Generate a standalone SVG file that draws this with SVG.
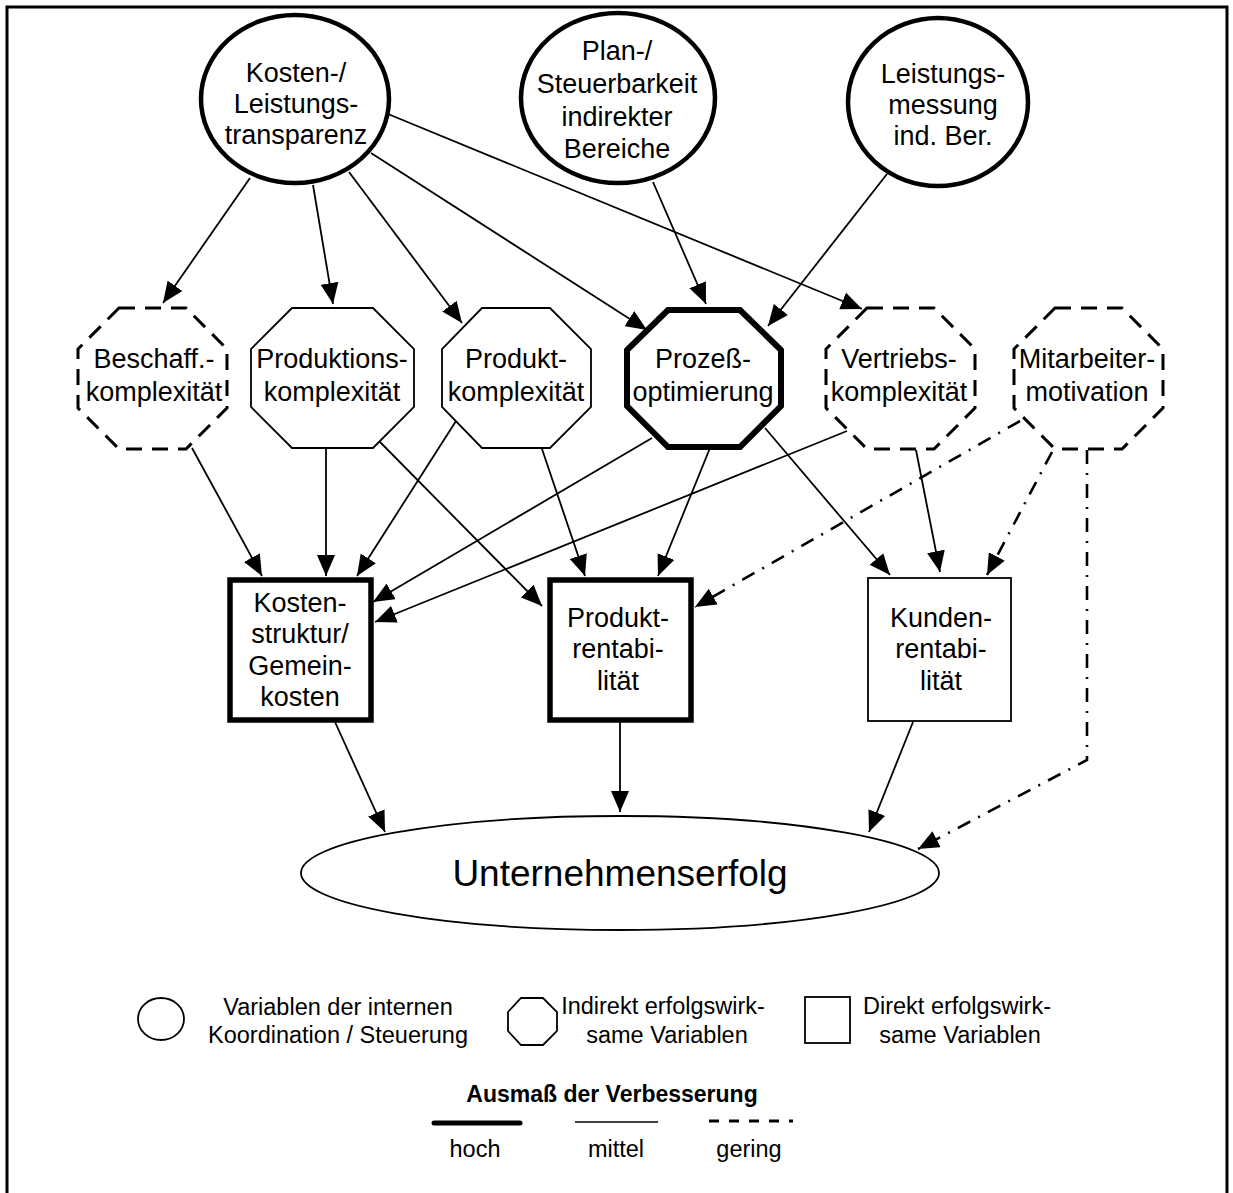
<svg xmlns="http://www.w3.org/2000/svg" width="1233" height="1193" viewBox="0 0 1233 1193">
<style>
text{font-family:"Liberation Sans",Arial,sans-serif;fill:#000;text-anchor:middle}
.t{font-size:27px}
.big{font-size:37px}
.lg{font-size:23.5px}
.bold{font-weight:bold;font-size:23px}
.circ{fill:#fff;stroke:#000;stroke-width:4.5}
.oct{fill:#fff;stroke:#000;stroke-width:1.8}
.octb{fill:#fff;stroke:#000;stroke-width:6}
.octd{fill:#fff;stroke:#000;stroke-width:3;stroke-dasharray:16 10}
.sq{fill:#fff;stroke:#000;stroke-width:1.8}
.sqb{fill:#fff;stroke:#000;stroke-width:5.5}
.c{fill:none;stroke:#000;stroke-width:1.8;marker-end:url(#ah)}
.cda{fill:none;stroke:#000;stroke-width:2.6;stroke-dasharray:14 9 2 9;marker-end:url(#ah2)}
</style>
<defs>
<marker id="ah" markerUnits="userSpaceOnUse" markerWidth="22" markerHeight="18" refX="21" refY="9" orient="auto">
<path d="M0,0 L21,9 L0,18 z" fill="#000"/>
</marker>
<marker id="ah2" markerUnits="userSpaceOnUse" markerWidth="22" markerHeight="18" refX="21" refY="9" orient="auto">
<path d="M0,0 L21,9 L0,18 z" fill="#000"/>
</marker>
</defs>
<rect width="1233" height="1193" fill="#fff"/>
<g id="border" fill="none" stroke="#000" stroke-width="3">
<path d="M7,1193 L7,7 L1227,7 L1227,1193"/>
</g>
<g id="connectors">
<line class="c" x1="250" y1="178" x2="163" y2="303"/>
<line class="c" x1="313" y1="185" x2="333" y2="304"/>
<line class="c" x1="349" y1="172" x2="462" y2="323"/>
<line class="c" x1="371" y1="153" x2="647" y2="330"/>
<line class="c" x1="388" y1="114" x2="862" y2="309"/>
<line class="c" x1="653" y1="182" x2="706" y2="304"/>
<line class="c" x1="887" y1="174" x2="768" y2="326"/>
<line class="c" x1="192" y1="448" x2="262" y2="576"/>
<line class="c" x1="326" y1="449" x2="326" y2="576"/>
<line class="c" x1="456" y1="421" x2="357" y2="576"/>
<line class="c" x1="652" y1="438" x2="373" y2="602"/>
<line class="c" x1="847" y1="431" x2="375" y2="622"/>
<line class="c" x1="379" y1="441" x2="542" y2="606"/>
<line class="c" x1="542" y1="449" x2="585" y2="576"/>
<line class="c" x1="710" y1="448" x2="658" y2="576"/>
<line class="c" x1="765" y1="428" x2="890" y2="575"/>
<line class="c" x1="916" y1="450" x2="940" y2="572"/>
<line class="cda" x1="1020" y1="421" x2="695" y2="607"/>
<line class="cda" x1="1052" y1="452" x2="987" y2="575"/>
<polyline class="cda" points="1087,450 1087,760 918,849"/>
<line class="c" x1="335" y1="722" x2="385" y2="832"/>
<line class="c" x1="620" y1="722" x2="620" y2="812"/>
<line class="c" x1="913" y1="722" x2="869" y2="832"/>
</g>
<g id="n-kosten-leistung">
<ellipse class="circ" cx="295" cy="99" rx="94" ry="84"/>
<text class="t" x="296" y="82">Kosten-/</text>
<text class="t" x="296" y="113">Leistungs-</text>
<text class="t" x="296" y="144">transparenz</text>
</g>
<g id="n-plan">
<ellipse class="circ" cx="618" cy="98" rx="97" ry="85"/>
<text class="t" x="617" y="60">Plan-/</text>
<text class="t" x="617" y="93">Steuerbarkeit</text>
<text class="t" x="617" y="126">indirekter</text>
<text class="t" x="617" y="158">Bereiche</text>
</g>
<g id="n-leistungsmessung">
<ellipse class="circ" cx="938" cy="102" rx="90" ry="84"/>
<text class="t" x="943" y="83">Leistungs-</text>
<text class="t" x="943" y="114">messung</text>
<text class="t" x="943" y="145">ind. Ber.</text>
</g>
<g id="n-beschaff">
<polygon class="octd" points="119,308 186,308 227,349 227,408 186,449 119,449 78,408 78,349"/>
<text class="t" x="154" y="368">Beschaff.-</text>
<text class="t" x="154" y="401">komplexität</text>
</g>
<g id="n-produktionskomplexitaet">
<polygon class="oct" points="292,308 373,308 414,349 414,407 373,448 292,448 251,407 251,349"/>
<text class="t" x="332" y="368">Produktions-</text>
<text class="t" x="332" y="401">komplexität</text>
</g>
<g id="n-produktkomplexitaet">
<polygon class="oct" points="482,308 550,308 591,349 591,407 550,448 482,448 442,407 442,349"/>
<text class="t" x="516" y="368">Produkt-</text>
<text class="t" x="516" y="401">komplexität</text>
</g>
<g id="n-prozess">
<polygon class="octb" points="668,310 740,310 781,350 781,406 740,447 668,447 627,406 627,350"/>
<text class="t" x="703" y="368">Prozeß-</text>
<text class="t" x="703" y="401">optimierung</text>
</g>
<g id="n-vertrieb">
<polygon class="octd" points="867,308 934,308 975,349 975,408 934,449 867,449 826,408 826,349"/>
<text class="t" x="899" y="368">Vertriebs-</text>
<text class="t" x="899" y="401">komplexität</text>
</g>
<g id="n-mitarbeiter">
<polygon class="octd" points="1055,308 1122,308 1163,349 1163,408 1122,449 1055,449 1014,408 1014,349"/>
<text class="t" x="1087" y="368">Mitarbeiter-</text>
<text class="t" x="1087" y="401">motivation</text>
</g>
<g id="n-kostenstruktur">
<rect class="sqb" x="230" y="580" width="141" height="140"/>
<text class="t" x="300" y="612">Kosten-</text>
<text class="t" x="300" y="643">struktur/</text>
<text class="t" x="300" y="675">Gemein-</text>
<text class="t" x="300" y="706">kosten</text>
</g>
<g id="n-produktrentabilitaet">
<rect class="sqb" x="550" y="580" width="141" height="140"/>
<text class="t" x="618" y="627">Produkt-</text>
<text class="t" x="618" y="658">rentabi-</text>
<text class="t" x="618" y="690">lität</text>
</g>
<g id="n-kundenrentabilitaet">
<rect class="sq" x="868" y="578" width="143" height="143"/>
<text class="t" x="941" y="627">Kunden-</text>
<text class="t" x="941" y="658">rentabi-</text>
<text class="t" x="941" y="690">lität</text>
</g>
<g id="n-unternehmenserfolg">
<ellipse cx="620" cy="873" rx="319" ry="57" fill="#fff" stroke="#000" stroke-width="1.8"/>
<text class="big" x="620" y="886">Unternehmenserfolg</text>
</g>
<g id="legend">
<ellipse cx="161" cy="1019" rx="23" ry="21" fill="#fff" stroke="#000" stroke-width="1.8"/>
<text class="lg" x="338" y="1015">Variablen der internen</text>
<text class="lg" x="338" y="1043">Koordination / Steuerung</text>
<polygon points="521,998 543,998 557,1012 557,1031 543,1045 521,1045 508,1031 508,1012" fill="#fff" stroke="#000" stroke-width="1.8"/>
<text class="lg" x="663" y="1014">Indirekt erfolgswirk-</text>
<text class="lg" x="667" y="1043">same Variablen</text>
<rect x="805" y="997" width="45" height="46" fill="#fff" stroke="#000" stroke-width="1.8"/>
<text class="lg" x="957" y="1014">Direkt erfolgswirk-</text>
<text class="lg" x="960" y="1043">same Variablen</text>
<text class="bold" x="612" y="1102">Ausmaß der Verbesserung</text>
<line x1="434" y1="1123" x2="520" y2="1123" stroke="#000" stroke-width="5" stroke-linecap="round"/>
<line x1="575" y1="1122" x2="658" y2="1122" stroke="#000" stroke-width="1.5"/>
<line x1="709" y1="1121" x2="793" y2="1121" stroke="#000" stroke-width="3" stroke-dasharray="10 10"/>
<text class="lg" x="475" y="1157">hoch</text>
<text class="lg" x="616" y="1157">mittel</text>
<text class="lg" x="749" y="1157">gering</text>
</g>
</svg>
